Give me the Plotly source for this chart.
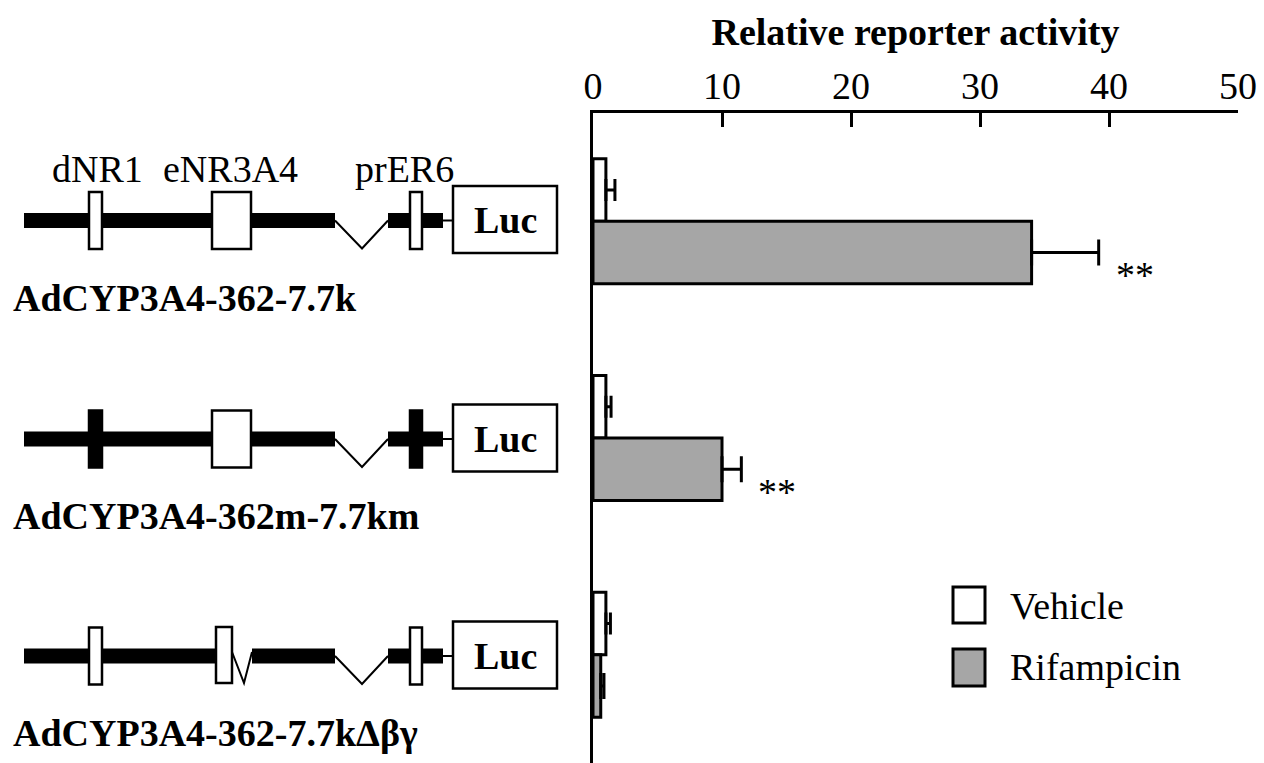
import plotly.graph_objects as go

# ---------------- data ----------------
constructs = ["AdCYP3A4-362-7.7k", "AdCYP3A4-362m-7.7km", "AdCYP3A4-362-7.7k\u0394\u03b2\u03b3"]
vehicle = [1.0, 1.0, 1.0]
vehicle_err = [0.7, 0.4, 0.35]
rifampicin = [34.0, 10.0, 0.6]
rifampicin_err = [5.2, 1.5, 0.25]
significance = ["**", "**", ""]
x_ticks = [0, 10, 20, 30, 40, 50]
element_names = ["dNR1", "eNR3A4", "prER6"]
mutated = [False, True, False]
deleted = [False, False, True]

W, H = 1264, 763
FONT = "Liberation Serif"
GRAY = "#a6a6a6"

fig = go.Figure()
fig.add_trace(go.Bar(
    name="Vehicle", y=constructs, x=vehicle, orientation="h",
    marker=dict(color="white", line=dict(color="black", width=3)),
    error_x=dict(type="data", array=vehicle_err, arrayminus=[0] * len(vehicle),
                 symmetric=False, color="black", thickness=3, width=11),
    showlegend=False))
fig.add_trace(go.Bar(
    name="Rifampicin", y=constructs, x=rifampicin, orientation="h",
    marker=dict(color=GRAY, line=dict(color="black", width=3)),
    error_x=dict(type="data", array=rifampicin_err, arrayminus=[0] * len(rifampicin),
                 symmetric=False, color="black", thickness=3, width=13),
    showlegend=False))


def px(x):
    return x / W


def py(y):
    return 1 - y / H


shapes = []
annotations = []


def rect(x0, x1, y0, y1, fill, lw=2.5):
    shapes.append(dict(type="rect", xref="paper", yref="paper",
                       x0=px(x0), x1=px(x1), y0=py(y1), y1=py(y0),
                       fillcolor=fill,
                       line=dict(color="black", width=lw) if lw > 0 else dict(width=0)))


def poly(points, lw=2):
    d = "M " + " L ".join(f"{px(a)},{py(b)}" for a, b in points)
    shapes.append(dict(type="path", xref="paper", yref="paper", path=d,
                       line=dict(color="black", width=lw)))


def text(x, y, s, size=38, bold=False, xanchor="center"):
    annotations.append(dict(xref="paper", yref="paper", x=px(x), y=py(y),
                            text=f"<b>{s}</b>" if bold else s, showarrow=False,
                            xanchor=xanchor, yanchor="middle",
                            font=dict(family=FONT, size=size, color="black")))


# ---------------- construct diagrams ----------------
band_centers = [220.5, 439, 656]
for i, c in enumerate(band_centers):
    # thick promoter/enhancer bands
    if deleted[i]:
        segs = [(24, 216), (252, 335), (388, 443)]
    else:
        segs = [(24, 335), (388, 443)]
    for a, b in segs:
        rect(a, b, c - 7.5, c + 7.5, "black", lw=0)
    # splice-like V
    poly([(335, c), (362, c + 28), (388, c)])
    if deleted[i]:
        poly([(232, c - 4), (244, c + 27), (252, c - 4)])
    # connector to Luc
    poly([(443, c), (453, c)])
    fill = "black" if mutated[i] else "white"
    rect(89, 102, c - 28.5, c + 28.5, fill)
    if deleted[i]:
        rect(216, 232, c - 29, c + 27, "white")
    else:
        rect(212, 251, c - 28.5, c + 28.5, "white")
    rect(410, 422, c - 28.5, c + 28.5, fill)
    # Luc box
    rect(453, 557, c - 34.5, c + 32.5, "white")
    text(505, c, "Luc", bold=True)
    # construct name
    text(11, c + 77, constructs[i], bold=True, xanchor="left")

# element labels
for name, xc in zip(element_names, [97, 230, 404]):
    text(xc, 169, name)

# ---------------- legend ----------------
rect(953, 985, 587, 623, "white", lw=3)
rect(953, 985, 649, 686, GRAY, lw=3)
text(1008, 606, "Vehicle", xanchor="left")
text(1008, 667, "Rifampicin", xanchor="left")

# ---------------- significance ----------------
for i, s in enumerate(significance):
    if s:
        annotations.append(dict(xref="x", yref="y", x=rifampicin[i] + rifampicin_err[i],
                                y=constructs[i], text=s, showarrow=False,
                                xanchor="left", yanchor="middle", xshift=15, yshift=-54,
                                font=dict(family=FONT, size=38, color="black")))

fig.update_layout(
    width=W, height=H,
    margin=dict(l=0, r=0, t=0, b=0),
    paper_bgcolor="white", plot_bgcolor="white",
    barmode="group", bargap=0.423, bargroupgap=0,
    shapes=shapes, annotations=annotations,
    font=dict(family=FONT, color="black"),
    xaxis=dict(domain=[593 / W, 1238 / W], range=[0, 50], side="top",
               tickvals=x_ticks, ticks="inside", ticklen=14, tickwidth=3,
               tickcolor="black", showline=True, linewidth=3, linecolor="black",
               showgrid=False, zeroline=False, automargin=False,
               ticklabelstandoff=-4,
               tickfont=dict(family=FONT, size=38, color="black"),
               title=dict(text="<b>Relative reporter activity</b>", standoff=8,
                          font=dict(family=FONT, size=38, color="black"))),
    yaxis=dict(domain=[0, 1 - 113 / H], range=[2.5, -0.5], showline=True,
               linewidth=3, linecolor="black", showticklabels=False, ticks="",
               showgrid=False, zeroline=False, automargin=False),
)

fig.write_html("out.html")
